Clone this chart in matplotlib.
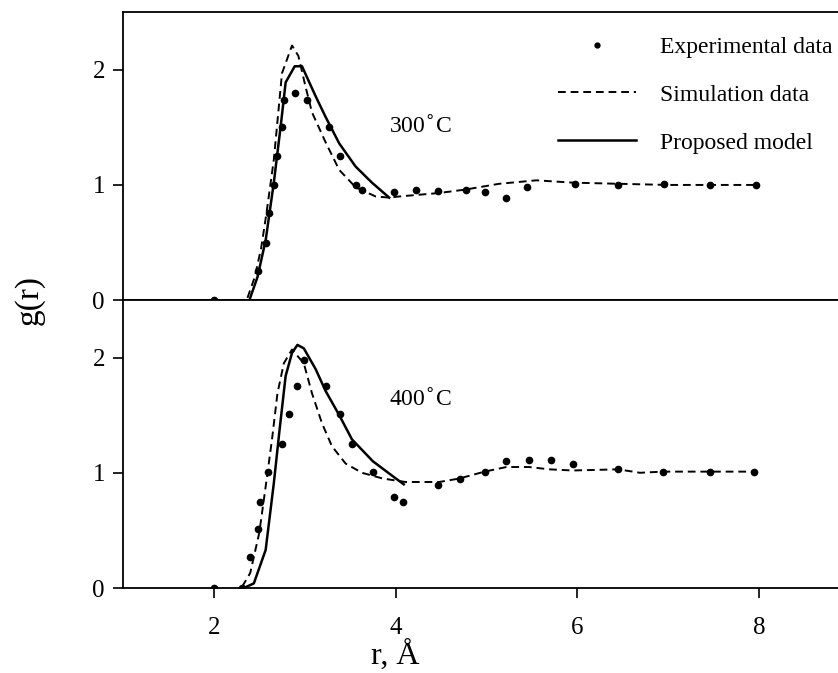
import numpy as np
import matplotlib
matplotlib.use('Agg')
import matplotlib.pyplot as plt
import matplotlib.transforms as mtransforms
from matplotlib.lines import Line2D

plt.rcParams['font.family'] = ['Liberation Serif', 'DejaVu Serif']

# 300 C panel
exp300_r = [2.0, 2.49, 2.57, 2.61, 2.66, 2.70, 2.75, 2.77, 2.89, 3.03, 3.27, 3.39, 3.56, 3.63,
            3.98, 4.22, 4.47, 4.77, 4.98, 5.22, 5.45, 5.97, 6.45, 6.96, 7.46, 7.97]
exp300_g = [0.0, 0.25, 0.50, 0.76, 1.00, 1.25, 1.50, 1.74, 1.80, 1.74, 1.50, 1.25, 1.00, 0.96,
            0.94, 0.96, 0.95, 0.96, 0.94, 0.89, 0.98, 1.01, 1.00, 1.01, 1.00, 1.00]
sim300_r = [2.37, 2.45, 2.52, 2.58, 2.66, 2.75, 2.86, 2.93, 3.01, 3.08, 3.23, 3.38, 3.56, 3.78,
            3.93, 4.04, 4.48, 4.77, 5.14, 5.55, 5.95, 6.45, 7.0, 7.5, 7.97]
sim300_g = [0.02, 0.20, 0.45, 0.76, 1.22, 1.97, 2.21, 2.12, 1.85, 1.63, 1.37, 1.13, 0.98, 0.90,
            0.89, 0.90, 0.93, 0.96, 1.01, 1.04, 1.02, 1.01, 1.00, 1.00, 1.00]
mod300_r = [2.40, 2.48, 2.57, 2.66, 2.74, 2.79, 2.89, 2.97, 3.12, 3.23, 3.38, 3.56, 3.74, 3.93]
mod300_g = [0.02, 0.20, 0.52, 1.02, 1.54, 1.89, 2.03, 2.03, 1.77, 1.59, 1.36, 1.16, 1.02, 0.89]

# 400 C panel
exp400_r = [2.0, 2.31, 2.40, 2.49, 2.51, 2.60, 2.75, 2.83, 2.91, 2.99, 3.23, 3.39, 3.52, 3.75,
            3.98, 4.08, 4.47, 4.71, 4.98, 5.22, 5.47, 5.71, 5.95, 6.45, 6.94, 7.46, 7.95]
exp400_g = [0.0, 0.0, 0.27, 0.51, 0.75, 1.01, 1.25, 1.51, 1.75, 1.98, 1.75, 1.51, 1.25, 1.01,
            0.79, 0.75, 0.89, 0.95, 1.01, 1.10, 1.11, 1.11, 1.08, 1.03, 1.01, 1.01, 1.01]
sim400_r = [2.31, 2.40, 2.50, 2.57, 2.64, 2.70, 2.77, 2.86, 2.99, 3.08, 3.19, 3.30, 3.45, 3.63,
            3.86, 4.11, 4.48, 4.70, 4.98, 5.22, 5.47, 5.69, 5.95, 6.45, 6.69, 6.94, 7.46, 7.95]
sim400_g = [0.01, 0.13, 0.48, 0.88, 1.29, 1.69, 1.95, 2.07, 1.95, 1.69, 1.43, 1.23, 1.08, 1.00,
            0.95, 0.92, 0.92, 0.95, 1.01, 1.05, 1.05, 1.03, 1.02, 1.03, 1.00, 1.01, 1.01, 1.01]
mod400_r = [2.33, 2.44, 2.57, 2.66, 2.72, 2.79, 2.86, 2.92, 2.99, 3.12, 3.23, 3.38, 3.52, 3.75,
            3.97, 4.09]
mod400_g = [0.0, 0.04, 0.33, 0.91, 1.35, 1.84, 2.04, 2.11, 2.08, 1.90, 1.71, 1.50, 1.29, 1.10,
            0.97, 0.90]

fig = plt.figure(figsize=(8.38, 6.73), dpi=100)
axTop = fig.add_axes([0.1468, 0.554, 0.8532, 0.428])
axBot = fig.add_axes([0.1468, 0.1263, 0.8532, 0.428])

#每个面板的曲线
def drawPanel(ax, er, eg, sr, sg, mr, mg, label, ly):
    ax.plot(sr, sg, color='black', lw=1.4, ls=(0, (4, 2.5)))
    ax.plot(mr, mg, color='black', lw=1.8)
    ax.plot(er, eg, 'o', color='black', ms=4.5, ls='none')
    ax.text(3.93, ly, label, fontsize=17, va='center', ha='left')
    ax.set_xlim(1.0, 8.87)
    ax.set_ylim(0, 2.5)
    ax.set_yticks([0, 1, 2])
    ax.spines['right'].set_visible(False)
    for s in ['left', 'top', 'bottom']:
        ax.spines[s].set_linewidth(1.3)
    ax.tick_params(axis='y', direction='out', length=7, width=1.2, labelsize=18, pad=6)
    ax.tick_params(axis='x', direction='out', length=7, width=1.2, labelsize=18, pad=14)

drawPanel(axTop, exp300_r, exp300_g, sim300_r, sim300_g, mod300_r, mod300_g, '300$^{\\circ}$C', 1.50)
drawPanel(axBot, exp400_r, exp400_g, sim400_r, sim400_g, mod400_r, mod400_g, '400$^{\\circ}$C', 1.63)

axTop.set_xticks([])
axBot.set_xticks([2, 4, 6, 8])
# x轴标题放在 r=4 下方
trans = mtransforms.blended_transform_factory(axBot.transData, axBot.transAxes)
axBot.text(4.0, -0.235, 'r, Å', transform=trans, fontsize=23, ha='center', va='center')
fig.text(0.035, 0.554, 'g(r)', rotation=90, fontsize=24, va='center', ha='center')

#图例
handles = [Line2D([], [], color='black', marker='o', ms=3.5, ls='none'),
           Line2D([], [], color='black', lw=1.4, ls=(0, (4, 2.5))),
           Line2D([], [], color='black', lw=1.8)]
labels = ['Experimental data', 'Simulation data', 'Proposed model']
axTop.legend(handles, labels, loc='upper right', bbox_to_anchor=(1.022, 0.99), frameon=False,
             fontsize=17, handlelength=3.3, handletextpad=1.0, labelspacing=1.12)

plt.savefig('out.png', dpi=100)
